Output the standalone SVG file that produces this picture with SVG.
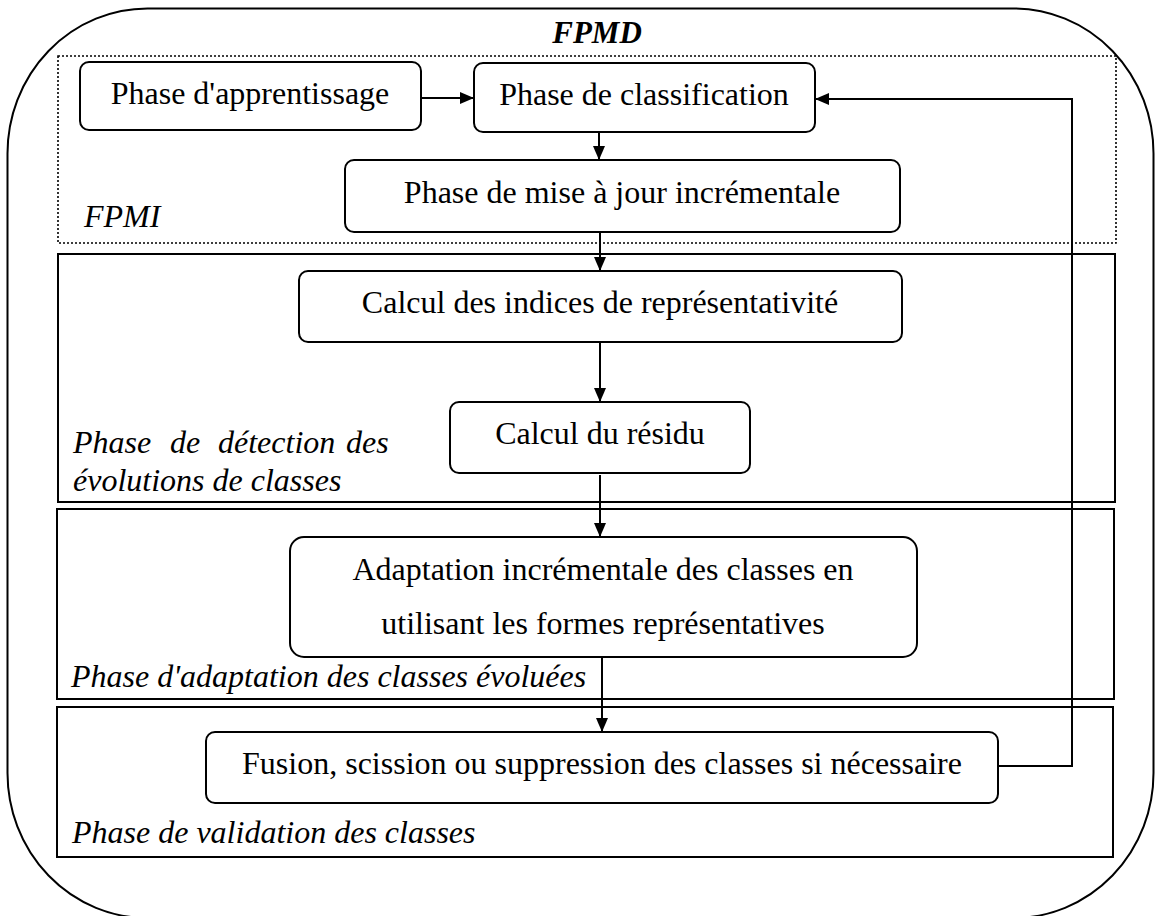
<svg xmlns="http://www.w3.org/2000/svg" width="1155" height="916" viewBox="0 0 1155 916">
<defs>
<style>
.node{fill:#fff;stroke:#000;stroke-width:2}
.sec{fill:none;stroke:#000;stroke-width:2}
.dot{fill:none;stroke:#000;stroke-width:1.6;stroke-dasharray:2 2}
.t{font-family:"Liberation Serif","Times New Roman",serif;font-size:32px;fill:#000;text-anchor:middle}
.lab{font-family:"Liberation Serif","Times New Roman",serif;font-size:32px;font-style:italic;fill:#000}
.title{font-family:"Liberation Serif","Times New Roman",serif;font-size:31px;font-style:italic;font-weight:bold;fill:#000;text-anchor:middle}
.c{fill:none;stroke:#000;stroke-width:2}
</style>
<marker id="ah" viewBox="0 0 14 12" refX="14" refY="6" markerWidth="14" markerHeight="12" markerUnits="userSpaceOnUse" orient="auto">
<path d="M0,0 L14,6 L0,12 Z" fill="#000"/>
</marker>
</defs>
<rect width="1155" height="916" fill="#fff"/>
<g id="outer">
<rect x="7.5" y="8.5" width="1146" height="909.5" rx="140" ry="145" fill="none" stroke="#000" stroke-width="2"/>
<text class="title" x="597" y="43">FPMD</text>
</g>
<g id="section-fpmi">
<rect class="dot" x="58" y="56" width="1058" height="187"/>
<text class="lab" x="84" y="227">FPMI</text>
</g>
<g id="section-detection">
<rect class="sec" x="58" y="254" width="1057" height="248"/>
<text class="lab" y="453"><tspan x="73">Phase</tspan><tspan x="170">de</tspan><tspan x="218">détection</tspan><tspan x="346">des</tspan></text>
<text class="lab" x="73" y="491">évolutions de classes</text>
</g>
<g id="section-adaptation">
<rect class="sec" x="57" y="509" width="1057" height="190"/>
<text class="lab" x="71" y="687">Phase d'adaptation des classes évoluées</text>
</g>
<g id="section-validation">
<rect class="sec" x="57" y="707" width="1056" height="150"/>
<text class="lab" x="72" y="843">Phase de validation des classes</text>
</g>
<g id="connectors">
<line class="c" x1="421" y1="98" x2="474" y2="98" marker-end="url(#ah)"/>
<line class="c" x1="599" y1="132" x2="599" y2="160" marker-end="url(#ah)"/>
<line class="c" x1="600" y1="232" x2="600" y2="271" marker-end="url(#ah)"/>
<line class="c" x1="600" y1="342" x2="600" y2="402" marker-end="url(#ah)"/>
<line class="c" x1="600" y1="475" x2="600" y2="537" marker-end="url(#ah)"/>
<line class="c" x1="602" y1="658" x2="602" y2="732" marker-end="url(#ah)"/>
<polyline class="c" points="998,766 1072,766 1072,99 815,99" marker-end="url(#ah)"/>
</g>
<g id="n-apprentissage">
<rect class="node" x="80" y="62" width="341" height="68" rx="9"/>
<text class="t" x="250" y="104">Phase d'apprentissage</text>
</g>
<g id="n-classification">
<rect class="node" x="474" y="63" width="341" height="69" rx="9"/>
<text class="t" x="644" y="105">Phase de classification</text>
</g>
<g id="n-mise">
<rect class="node" x="345" y="160" width="555" height="72" rx="9"/>
<text class="t" x="622" y="203">Phase de mise à jour incrémentale</text>
</g>
<g id="n-indices">
<rect class="node" x="299" y="271" width="603" height="71" rx="9"/>
<text class="t" x="600" y="313">Calcul des indices de représentativité</text>
</g>
<g id="n-residu">
<rect class="node" x="450" y="402" width="300" height="71" rx="9"/>
<text class="t" x="600" y="444">Calcul du résidu</text>
</g>
<g id="n-adaptation">
<rect class="node" x="290" y="537" width="627" height="120" rx="14"/>
<text class="t" x="603" y="580">Adaptation incrémentale des classes en</text>
<text class="t" x="603" y="634">utilisant les formes représentatives</text>
</g>
<g id="n-fusion">
<rect class="node" x="206" y="732" width="792" height="71" rx="9"/>
<text class="t" x="602" y="774">Fusion, scission ou suppression des classes si nécessaire</text>
</g>
</svg>
